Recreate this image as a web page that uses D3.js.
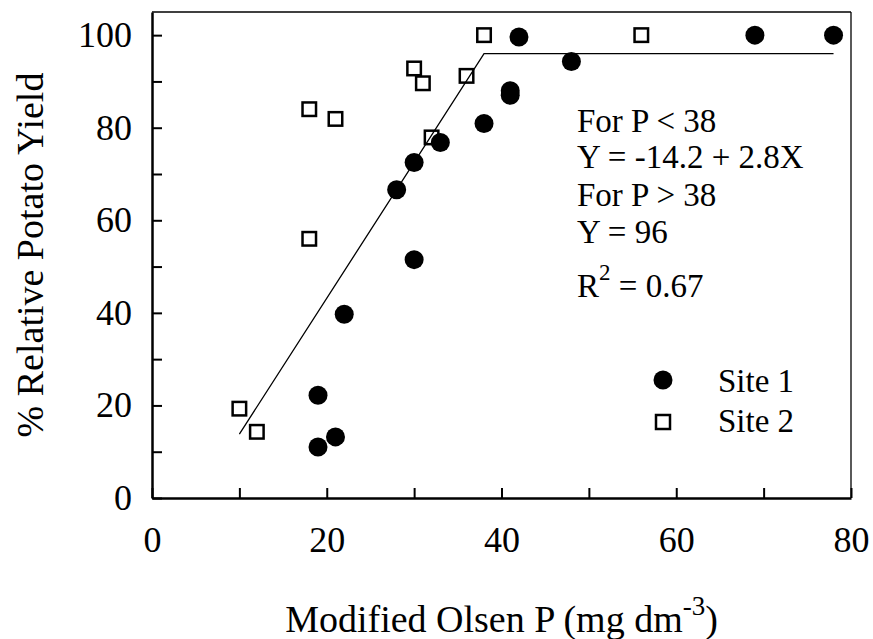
<!DOCTYPE html>
<html>
<head>
<meta charset="utf-8">
<script src="https://cdn.jsdelivr.net/npm/d3@7.9.0/dist/d3.min.js"></script>
<style>
  html, body { margin: 0; padding: 0; background: #fff; }
  svg text { font-family: "Liberation Serif", "Times New Roman", serif; fill: #000; }
</style>
</head>
<body>
<div id="chart"></div>
<script>
// Site 1 (filled circles)
const site1X = [19, 19, 21, 22, 28, 30, 30, 33, 38, 41, 41, 42, 48, 69, 78];
const site1Y = [11, 22.2, 13.2, 39.7, 66.6, 72.5, 51.5, 76.8, 80.9, 87, 88, 99.6, 94.3, 100, 100];

// Site 2 (open squares)
const site2X = [10, 12, 18, 18, 21, 30, 31, 32, 36, 38, 56];
const site2Y = [19.3, 14.3, 56, 84, 81.9, 92.8, 89.6, 77.9, 91.2, 100, 100];

// linear-plateau fit as drawn
const fitX = [10, 38, 78];
const fitY = [13.8, 96, 96];

const xTicks = [0, 10, 20, 30, 40, 50, 60, 70, 80];
const yTicks = [0, 10, 20, 30, 40, 50, 60, 70, 80, 90, 100];

const noteLines = ["For P < 38", "Y = -14.2 + 2.8X", "For P > 38", "Y = 96"];
const legendLabels = ["Site 1", "Site 2"];

const width = 873, height = 639;
const margin = { top: 12, right: 22, bottom: 141, left: 152 };

const svg = d3.select("#chart").append("svg")
  .attr("width", width)
  .attr("height", height);

const x = d3.scaleLinear().domain([0, 80]).range([margin.left, width - margin.right]);
const y = d3.scaleLinear().domain([0, 105]).range([height - margin.bottom, margin.top]);

// frame (top / right thin)
svg.append("line")
  .attr("x1", x(0)).attr("x2", x(80))
  .attr("y1", y(105)).attr("y2", y(105))
  .attr("stroke", "#000").attr("stroke-width", 1.3);
svg.append("line")
  .attr("x1", x(80)).attr("x2", x(80))
  .attr("y1", y(105)).attr("y2", y(0))
  .attr("stroke", "#000").attr("stroke-width", 1.3);

// x axis, ticks pointing inward
const xAxisG = svg.append("g")
  .attr("transform", `translate(0, ${y(0)})`)
  .call(d3.axisBottom(x)
    .tickValues(xTicks)
    .tickSizeInner(-10)
    .tickSizeOuter(0)
    .tickPadding(28)
    .tickFormat(d => d % 20 === 0 ? d : ""));

// y axis
const yAxisG = svg.append("g")
  .attr("transform", `translate(${x(0)}, 0)`)
  .call(d3.axisLeft(y)
    .tickValues(yTicks)
    .tickSizeInner(-10)
    .tickSizeOuter(0)
    .tickPadding(20)
    .tickFormat(d => d % 20 === 0 ? d : ""));

[xAxisG, yAxisG].forEach(a => {
  a.attr("font-family", null).attr("font-size", 36);
  a.select(".domain").attr("stroke-width", 2.5);
  a.selectAll(".tick line").attr("stroke-width", 2);
});

// axis titles
svg.append("text")
  .attr("transform", `translate(43, ${(y(0) + y(105)) / 2}) rotate(-90)`)
  .attr("text-anchor", "middle")
  .attr("font-size", 38)
  .text("% Relative Potato Yield");

const xt = svg.append("text")
  .attr("x", (x(0) + x(80)) / 2)
  .attr("y", 632)
  .attr("text-anchor", "middle")
  .attr("font-size", 38);
xt.append("tspan").text("Modified Olsen P (mg dm");
xt.append("tspan").attr("font-size", 27).attr("dy", -17).text("-3");
xt.append("tspan").attr("dy", 17).text(")");

// fitted line
const fit = fitX.map((v, i) => [v, fitY[i]]);
svg.append("path")
  .datum(fit)
  .attr("fill", "none")
  .attr("stroke", "#000")
  .attr("stroke-width", 1.3)
  .attr("d", d3.line().x(d => x(d[0])).y(d => y(d[1])));

// points
const r = 9.5, sq = 13.5;
const s2 = site2X.map((v, i) => ({ x: v, y: site2Y[i] }));
const s1 = site1X.map((v, i) => ({ x: v, y: site1Y[i] }));

svg.append("g")
  .selectAll("rect")
  .data(s2)
  .join("rect")
    .attr("x", d => x(d.x) - sq / 2)
    .attr("y", d => y(d.y) - sq / 2)
    .attr("width", sq)
    .attr("height", sq)
    .attr("fill", "none")
    .attr("stroke", "#000")
    .attr("stroke-width", 2.5);

svg.append("g")
  .selectAll("circle")
  .data(s1)
  .join("circle")
    .attr("cx", d => x(d.x))
    .attr("cy", d => y(d.y))
    .attr("r", r)
    .attr("fill", "#000");

// equation notes
const noteX = 577;
const noteBase = [132, 168, 206, 243];
noteLines.forEach((t, i) => {
  svg.append("text")
    .attr("x", noteX)
    .attr("y", noteBase[i])
    .attr("font-size", 33)
    .text(t);
});
const r2 = svg.append("text")
  .attr("x", noteX)
  .attr("y", 297)
  .attr("font-size", 33);
r2.append("tspan").text("R");
r2.append("tspan").attr("font-size", 23).attr("dy", -17).text("2");
r2.append("tspan").attr("dy", 17).text(" = 0.67");

// legend
const legend = svg.append("g").attr("transform", "translate(663, 380)");
legend.append("circle").attr("cx", 0).attr("cy", 0).attr("r", r).attr("fill", "#000");
legend.append("rect")
  .attr("x", -7).attr("y", 42 - 7)
  .attr("width", 14).attr("height", 14)
  .attr("fill", "none").attr("stroke", "#000").attr("stroke-width", 2.5);
legendLabels.forEach((t, i) => {
  legend.append("text")
    .attr("x", 55)
    .attr("y", 12 + i * 40)
    .attr("font-size", 33)
    .text(t);
});
</script>
</body>
</html>
